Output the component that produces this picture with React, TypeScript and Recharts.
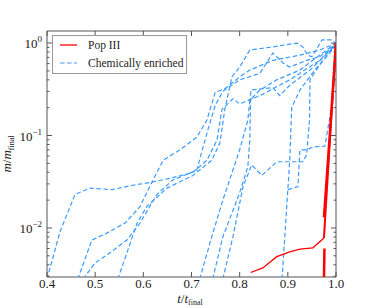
import { LineChart, Line, XAxis, YAxis, ReferenceArea, Legend } from "recharts";

// plot frame (px) – used for the inward tick marks and labels
const PLOT_LEFT = 47;
const PLOT_RIGHT = 336;
const PLOT_TOP = 31;
const PLOT_BOTTOM = 277;
const FRAME = "#555";
const SERIF = "Liberation Serif";
const BLUE = "#3c9bff";
const RED = "#ff0000";

const tTicks = [0.4, 0.5, 0.6, 0.7, 0.8, 0.9, 1.0];
const mTicks = [
  0.003, 0.004, 0.005, 0.006, 0.007, 0.008, 0.009, 0.01,
  0.02, 0.03, 0.04, 0.05, 0.06, 0.07, 0.08, 0.09, 0.1,
  0.2, 0.3, 0.4, 0.5, 0.6, 0.7, 0.8, 0.9, 1,
];
const mDecades = [0.01, 0.1, 1];

// chemically enriched haloes: [t/t_final, m/m_final]
const enriched1 = [
  [0.4, 0.0028], [0.427, 0.0091], [0.458, 0.023], [0.489, 0.027], [0.535, 0.026],
  [0.578, 0.029], [0.614, 0.031], [0.661, 0.035], [0.703, 0.04], [0.732, 0.054],
  [0.753, 0.089], [0.763, 0.19], [0.786, 0.25], [0.8, 0.22], [0.842, 0.27],
  [0.904, 0.4], [0.966, 0.65], [1.0, 1.0],
];
const enriched2 = [
  [0.464, 0.0028], [0.493, 0.0074], [0.524, 0.0088], [0.562, 0.0113], [0.593, 0.017],
  [0.62, 0.033], [0.641, 0.054], [0.676, 0.07], [0.711, 0.096], [0.732, 0.147],
  [0.749, 0.29], [0.773, 0.33], [0.8, 0.43], [0.821, 0.51], [0.869, 0.65],
  [0.925, 0.74], [0.966, 0.84], [1.0, 1.0],
];
const enriched3 = [
  [0.475, 0.0028], [0.5, 0.0042], [0.531, 0.0054], [0.566, 0.0074], [0.593, 0.0113],
  [0.628, 0.023], [0.661, 0.033], [0.711, 0.042], [0.724, 0.075], [0.734, 0.115],
  [0.749, 0.21], [0.765, 0.3], [0.8, 0.4], [0.842, 0.47], [0.869, 0.78],
  [0.89, 0.61], [0.904, 0.55], [0.939, 0.65], [0.966, 0.71], [1.0, 0.95],
];
const enriched4 = [
  [0.547, 0.0028], [0.566, 0.0054], [0.587, 0.0113], [0.607, 0.017], [0.649, 0.027],
  [0.703, 0.037], [0.742, 0.054], [0.759, 0.083], [0.769, 0.19], [0.784, 0.43],
  [0.8, 0.55], [0.821, 0.84], [0.869, 0.91], [0.919, 1.0], [0.931, 0.91],
  [0.941, 0.74], [0.95, 0.71], [0.971, 1.08], [0.991, 1.08], [1.0, 1.0],
];
const enriched5 = [
  [0.717, 0.0028], [0.742, 0.008], [0.765, 0.02], [0.8, 0.07], [0.817, 0.147],
  [0.821, 0.24], [0.842, 0.31], [0.877, 0.4], [0.925, 0.51], [0.966, 0.74], [1.0, 1.0],
];
const enriched6 = [
  [0.744, 0.0028], [0.765, 0.008], [0.8, 0.024], [0.817, 0.046], [0.821, 0.089],
  [0.823, 0.31], [0.869, 0.33], [0.883, 0.27], [0.904, 0.35], [0.946, 0.51], [1.0, 0.95],
];
const enriched7 = [
  [0.765, 0.0028], [0.786, 0.008], [0.807, 0.028], [0.825, 0.048], [0.846, 0.037],
  [0.877, 0.052], [0.931, 0.052], [0.939, 0.062], [0.945, 0.147], [0.946, 0.4],
  [0.966, 0.58], [1.0, 0.95],
];
const enriched8 = [
  [0.888, 0.0028], [0.9, 0.026], [0.904, 0.054], [0.908, 0.2], [0.925, 0.31],
  [0.956, 0.51], [1.0, 0.95],
];
const enriched9 = [
  [0.9, 0.026], [0.921, 0.028], [0.925, 0.07], [0.939, 0.07], [0.952, 0.075],
  [0.977, 0.077], [0.993, 0.24], [1.0, 0.95],
];

// Pop III haloes
const popIII1 = [
  [0.823, 0.0033], [0.848, 0.0037], [0.877, 0.0049], [0.904, 0.0055], [0.925, 0.0059],
  [0.952, 0.0061], [0.975, 0.0078],
];
const popIII2 = [[0.975, 0.0028], [0.976, 0.006]];
const popIII3 = [[0.975, 0.013], [0.987, 0.1], [1.0, 1.0]];
const popIII4 = [[0.975, 0.0078], [0.99, 0.15], [1.0, 1.0]];

const toPoints = (pairs: number[][]) => pairs.map(([t, m]) => ({ t, m }));

const enriched = [enriched1, enriched2, enriched3, enriched4, enriched5, enriched6, enriched7, enriched8, enriched9];

const XTick = ({ x, payload }: any) => (
  <g>
    <line x1={x} x2={x} y1={PLOT_BOTTOM} y2={PLOT_BOTTOM - 5} stroke={FRAME} />
    <line x1={x} x2={x} y1={PLOT_TOP} y2={PLOT_TOP + 5} stroke={FRAME} />
    <text x={x} y={PLOT_BOTTOM + 11} textAnchor="middle" fontFamily={SERIF} fontSize={13} fill="#222">
      {Number(payload.value).toFixed(1)}
    </text>
  </g>
);

const YTick = ({ y, payload }: any) => {
  const v = payload.value;
  const major = mDecades.includes(v);
  const len = major ? 5 : 2.5;
  const exp = Math.round(Math.log10(v));
  return (
    <g>
      <line x1={PLOT_LEFT} x2={PLOT_LEFT + len} y1={y} y2={y} stroke={FRAME} />
      <line x1={PLOT_RIGHT} x2={PLOT_RIGHT - len} y1={y} y2={y} stroke={FRAME} />
      {major && (
        <text x={PLOT_LEFT - 5} y={y + 5} textAnchor="end" fontFamily={SERIF} fontSize={13} fill="#222">
          10
          <tspan dy={-6} fontSize={9}>
            {exp === 0 ? "0" : "\u2212" + Math.abs(exp)}
          </tspan>
        </text>
      )}
    </g>
  );
};

const XLabel = () => (
  <text x={190} y={303} textAnchor="middle" fontFamily={SERIF} fontSize={13} fill="#222">
    <tspan fontStyle="italic">t</tspan>/<tspan fontStyle="italic">t</tspan>
    <tspan dy={2} fontSize={8}>final</tspan>
  </text>
);

const YLabel = () => (
  <text x={11} y={154} transform="rotate(-90 11 154)" textAnchor="middle" fontFamily={SERIF} fontSize={13} fill="#222">
    <tspan fontStyle="italic">m</tspan>/<tspan fontStyle="italic">m</tspan>
    <tspan dy={3} fontSize={8}>final</tspan>
  </text>
);

const LegendBox = () => (
  <div
    style={{
      boxSizing: "border-box",
      width: 135,
      border: "1px solid #999",
      background: "#fff",
      padding: "0 0 1px 7px",
      fontFamily: SERIF,
      fontSize: 11.5,
      color: "#222",
      lineHeight: "18px",
      whiteSpace: "nowrap",
    }}
  >
    <div style={{ display: "flex", alignItems: "center", height: 18 }}>
      <svg width={17} height={4}>
        <line x1={0} x2={17} y1={2} y2={2} stroke={RED} strokeWidth={1.3} />
      </svg>
      <span style={{ marginLeft: 11 }}>Pop III</span>
    </div>
    <div style={{ display: "flex", alignItems: "center", height: 18 }}>
      <svg width={17} height={4}>
        <line x1={0} x2={17} y1={2} y2={2} stroke={BLUE} strokeWidth={1.2} strokeDasharray="4.5 2.5" />
      </svg>
      <span style={{ marginLeft: 11 }}>Chemically enriched</span>
    </div>
  </div>
);

export default function App() {
  return (
    <div style={{ position: "absolute", left: 0, top: 0, background: "#fff" }}>
      <LineChart width={374} height={308} margin={{ top: 31, right: 38, bottom: 1, left: 7 }}>
        <XAxis
          type="number"
          dataKey="t"
          domain={[0.4, 1.0]}
          ticks={tTicks}
          interval={0}
          allowDataOverflow
          axisLine={false}
          tickLine={false}
          height={30}
          tick={<XTick />}
          label={<XLabel />}
        />
        <YAxis
          type="number"
          dataKey="m"
          scale="log"
          domain={[0.00295, 1.35]}
          ticks={mTicks}
          interval={0}
          allowDataOverflow
          axisLine={false}
          tickLine={false}
          width={40}
          tick={<YTick />}
          label={<YLabel />}
        />
        <ReferenceArea x1={0.4} x2={1.0} y1={0.00295} y2={1.35} fill="none" stroke={FRAME} strokeWidth={1} />
        {enriched.map((s, i) => (
          <Line
            key={"e" + i}
            data={toPoints(s)}
            dataKey="m"
            type="linear"
            stroke={BLUE}
            strokeWidth={1.2}
            strokeDasharray="4.5 2.5"
            dot={false}
            isAnimationActive={false}
          />
        ))}
        <Line data={toPoints(popIII1)} dataKey="m" type="linear" stroke={RED} strokeWidth={1.3} dot={false} isAnimationActive={false} />
        <Line data={toPoints(popIII2)} dataKey="m" type="linear" stroke={RED} strokeWidth={2.5} dot={false} isAnimationActive={false} />
        <Line data={toPoints(popIII3)} dataKey="m" type="linear" stroke={RED} strokeWidth={2.5} dot={false} isAnimationActive={false} />
        <Line data={toPoints(popIII4)} dataKey="m" type="linear" stroke={RED} strokeWidth={2} dot={false} isAnimationActive={false} />
        <Legend
          layout="vertical"
          align="center"
          verticalAlign="middle"
          content={<LegendBox />}
          wrapperStyle={{ left: 52, top: 35, width: 135, height: 38 }}
        />
      </LineChart>
    </div>
  );
}
